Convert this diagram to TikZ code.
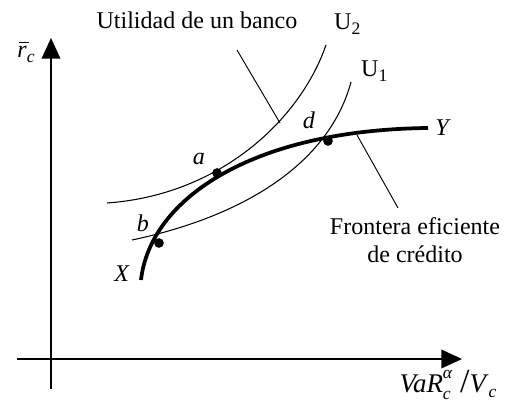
\documentclass[tikz,border=0pt]{standalone}
\usepackage{fontspec}
\setmainfont{Liberation Serif}
\usetikzlibrary{arrows.meta}

\newcommand{\lowsub}[1]{\raisebox{-0.4ex}{\fontsize{15}{15}\selectfont #1}}
\newcommand{\highsup}[1]{\raisebox{1.15ex}{\fontsize{15}{15}\selectfont #1}}

\tikzset{
  axis/.style={line width=1.3pt,-{Triangle[length=0.62cm,width=0.56cm]}},
  thin curve/.style={line width=0.9pt},
  frontier/.style={line width=3.2pt},
  leader/.style={line width=0.8pt},
  dot/.style={circle,fill=black,inner sep=0pt,minimum size=0.29cm},
}

\begin{document}
\begin{tikzpicture}[x=0.03cm,y=-0.03cm,every node/.style={font=\fontsize{20.5}{24}\selectfont}]
\useasboundingbox (0,0) rectangle (508,404);
% axes
\coordinate (ytail) at (51,389);
\coordinate (ytip) at (51,38);
\coordinate (xtail) at (17,359);
\coordinate (xtip) at (462,359);
\draw[axis] (ytail) -- (ytip);
\draw[axis] (xtail) -- (xtip);
\node (rlab) at (26,52) {\makebox[0pt][l]{\hspace{0.05em}\raisebox{0.62em}{\rule{0.42em}{1pt}}}\textit{r}\lowsub{\textit{c}}};
\node[font=\fontsize{23}{26}\selectfont,inner sep=0pt] (varlab) at (448,385) {\textit{VaR}\rlap{\highsup{\textit{α}}}\raisebox{-0.55ex}{\fontsize{15}{15}\selectfont\textit{c}}\hspace{0.35em}{\fontsize{29}{29}\selectfont/}\textit{V}\lowsub{\textit{c}}};
% utility curves
\coordinate (u2a) at (107,203);
\coordinate (u2b) at (326,45);
\draw[thin curve] (u2a) .. controls (220,195) and (300,120) .. (u2b);
\coordinate (u1a) at (132,240);
\coordinate (u1b) at (351,82);
\draw[thin curve] (u1a) .. controls (250,215) and (330,160) .. (u1b);
\node[anchor=base west,inner sep=0pt] (U2) at (334,30) {U\lowsub{2}};
\node[anchor=base west,inner sep=0pt] (U1) at (361,77) {U\lowsub{1}};
% efficient frontier
\coordinate (fx) at (141,280);
\coordinate (fy) at (428,128);
\draw[frontier] (fx) .. controls (150,200) and (250,130) .. (fy);
\node (X) at (122,274) {\textit{X}};
\node (Y) at (443,128) {\textit{Y}};
% points
\node[dot] (pa) at (217,173) {};
\node[dot] (pb) at (159,243) {};
\node[dot] (pd) at (328,141) {};
\node (a) at (199,159) {\textit{a}};
\node (b) at (143,223) {\textit{b}};
\node (d) at (309,120) {\textit{d}};
% labels and leaders
\node (util) at (197,20) {Utilidad de un banco};
\coordinate (utop) at (237,50);
\coordinate (ucut) at (280,123);
\draw[leader] (utop) -- (ucut);
\node[align=center] (front) at (415,240) {Frontera eficiente\\de crédito};
\coordinate (fcut) at (357,135);
\coordinate (fbot) at (398,208);
\draw[leader] (fcut) -- (fbot);
\end{tikzpicture}
\end{document}
